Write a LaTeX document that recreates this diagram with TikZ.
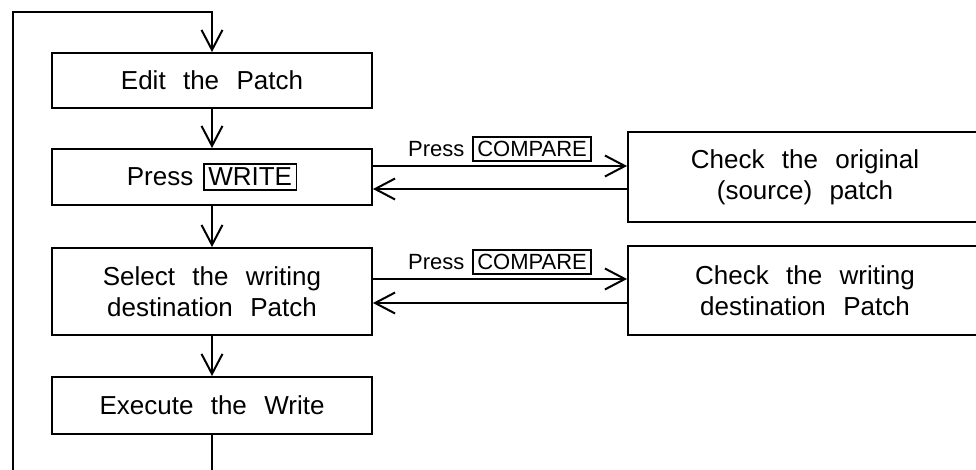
\documentclass[tikz,border=0pt]{standalone}
\usepackage{fontspec}
\setmainfont{Liberation Sans}[WordSpace=2.4]
\usetikzlibrary{arrows.meta}
\newcommand{\keyb}[1]{{\setlength{\fboxsep}{1.7pt}\setlength{\fboxrule}{0.8pt}\fbox{#1}}}
\begin{document}
\begin{tikzpicture}[x=0.5pt,y=-0.5pt, line width=0.95pt,
  box/.style={draw, rectangle, inner sep=0pt, align=center, font=\fontsize{13}{15.5}\selectfont},
  arr/.style={-{Straight Barb[length=10pt,width=10.5pt,line width=1pt]}},
  lbl/.style={font=\fontsize{11}{13}\selectfont, inner sep=1.5pt}]
\useasboundingbox (0,0) rectangle (976,470);
\clip (0,0) rectangle (976,470);
\node[box, minimum width=160pt, minimum height=27.5pt] (edit) at (212,80.5) {Edit the Patch};
\node[box, minimum width=160pt, minimum height=28pt] (write) at (212,177) {Press\hspace{5pt}\keyb{WRITE}};
\node[box, minimum width=160pt, minimum height=43.5pt] (sel) at (212,291.5) {Select the writing\\destination Patch};
\node[box, minimum width=160pt, minimum height=28.5pt] (exec) at (212,405.5) {Execute the Write};
\node[box, minimum width=177pt, minimum height=45pt] (src) at (805,177) {Check the original\\(source) patch};
\node[box, minimum width=177pt, minimum height=44.5pt] (dst) at (805,290.5) {Check the writing\\destination Patch};
\coordinate (bl) at (13,472);
\coordinate (tl) at (13,12);
\coordinate (be) at (212,472);
\draw (exec.south) -- (be);
\draw[arr] (bl) -- (tl) -| (edit.north);
\draw[arr] (edit.south) -- (write.north);
\draw[arr] (write.south) -- (sel.north);
\draw[arr] (sel.south) -- (exec.north);
\draw[arr] ([yshift=5.5pt]write.east) -- ([yshift=5.5pt]write.east -| src.west)
  node[midway, above, lbl] {Press\hspace{4pt}\keyb{COMPARE}};
\draw[arr] ([yshift=-6pt]src.west) -- ([yshift=-6pt]src.west -| write.east);
\draw[arr] ([yshift=6.25pt]sel.east) -- ([yshift=6.25pt]sel.east -| dst.west)
  node[midway, above, lbl] {Press\hspace{4pt}\keyb{COMPARE}};
\draw[arr] ([yshift=-6.25pt]dst.west) -- ([yshift=-6.25pt]dst.west -| sel.east);
\end{tikzpicture}
\end{document}
